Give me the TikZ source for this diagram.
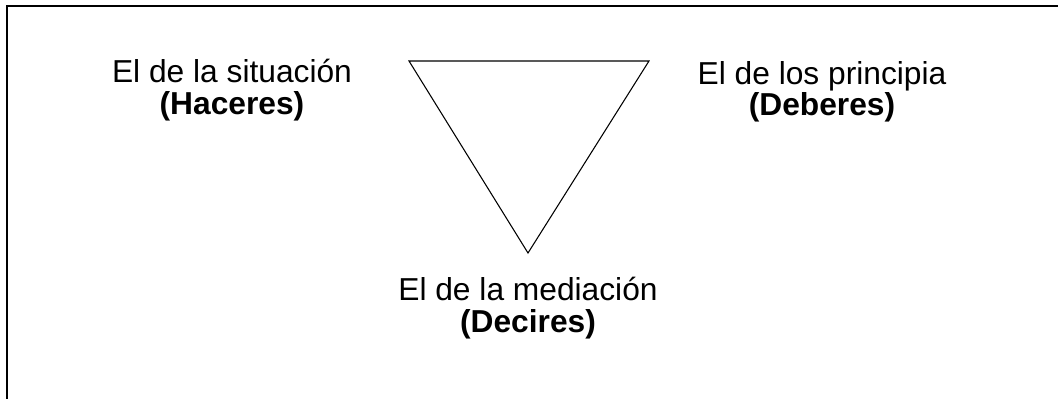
\documentclass[tikz,border=0pt]{standalone}
\usepackage{fontspec}
\setmainfont{Liberation Sans}
\begin{document}
\begin{tikzpicture}[x=0.75pt,y=0.75pt,yscale=-1,xscale=1,
    lbl/.style={align=center, inner sep=0.75pt, font=\fontsize{23.8}{23.5}\selectfont}]
    \useasboundingbox (0,0) rectangle (1058,399);
    \clip (0,0) rectangle (1058,399);
    
    %Shape: Rectangle [frame, runs past the page]
    \draw [line width=1.5] (7,6) rectangle (1080,420);
    %Shape: Triangle
    \coordinate (tl) at (409,61);
    \coordinate (tr) at (649,61);
    \coordinate (apex) at (528,253);
    \draw [line width=0.8] (tl) -- (tr) -- (apex) -- cycle;
    
    % Text Node
    \node (situacion) at (232,90) [lbl] {El de la situación\\\textbf{(Haceres)}\hspace{10pt}};
    % Text Node
    \node (principia) at (822,92) [lbl] {El de los principia\\\textbf{(Deberes)}\hspace{12pt}};
    % Text Node
    \node (mediacion) at (528,308) [lbl] {El de la mediación\\\textbf{(Decires)}};
    
\end{tikzpicture}
\end{document}
